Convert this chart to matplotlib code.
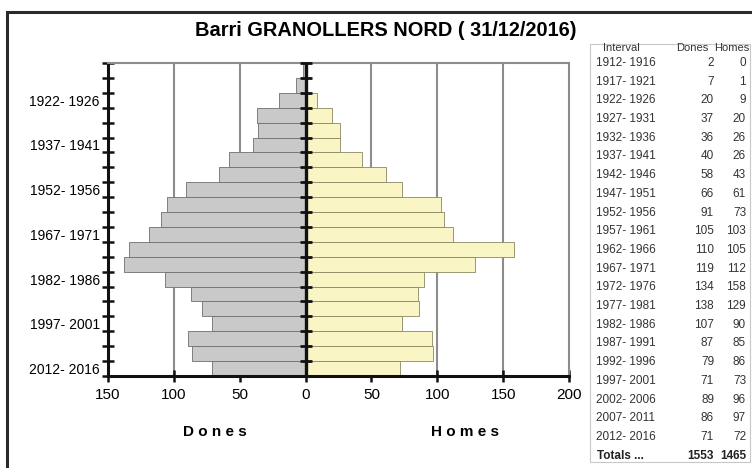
import matplotlib
matplotlib.use("Agg")
import matplotlib.pyplot as plt
import numpy as np
from matplotlib.patches import Rectangle

plt.rcParams["font.family"] = ["Liberation Sans", "DejaVu Sans"]

intervals = [
    "1912- 1916", "1917- 1921", "1922- 1926", "1927- 1931", "1932- 1936",
    "1937- 1941", "1942- 1946", "1947- 1951", "1952- 1956", "1957- 1961",
    "1962- 1966", "1967- 1971", "1972- 1976", "1977- 1981", "1982- 1986",
    "1987- 1991", "1992- 1996", "1997- 2001", "2002- 2006", "2007- 2011",
    "2012- 2016",
]
dones = [2, 7, 20, 37, 36, 40, 58, 66, 91, 105, 110, 119, 134, 138, 107, 87, 79, 71, 89, 86, 71]
homes = [0, 1, 9, 20, 26, 26, 43, 61, 73, 103, 105, 112, 158, 129, 90, 85, 86, 73, 96, 97, 72]
x_ticks = [-150, -100, -50, 0, 50, 100, 150, 200]
title = "Barri GRANOLLERS NORD ( 31/12/2016)"

W, H = 752, 468
fig = plt.figure(figsize=(W / 100, H / 100), dpi=100)
fig.patch.set_facecolor("white")

# outer frame (only left and top edges visible in the reference)
fig.patches.append(Rectangle((7 / W, -0.05), 1.2, 1 - 12 / H + 0.05, transform=fig.transFigure,
                             fill=False, edgecolor="#2a2a2a", linewidth=2.2))

ax = fig.add_axes([108 / W, 1 - 376 / H, (569 - 108) / W, (376 - 63) / H])
n = len(intervals)
y = np.arange(n)

for gx in [-100, -50, 50, 100, 150]:
    ax.axvline(gx, color="#8c8c8c", linewidth=1.5, zorder=0)

ax.barh(y, [-d for d in dones], height=1.0, color="#c9c9c9", edgecolor="#6f6f6f", linewidth=0.6, zorder=2)
ax.barh(y, homes, height=1.0, color="#f9f5c4", edgecolor="#8a8862", linewidth=0.6, zorder=2)
ax.axvline(0, color="#111111", linewidth=2.4, zorder=3)

bounds = np.arange(n + 1) - 0.5
ax.plot(np.zeros(n + 1), bounds, linestyle="none", marker="_", markersize=8,
        markeredgewidth=2.0, color="#111111", zorder=4, clip_on=False)

ax.set_xlim(-150, 200)
ax.set_ylim(n - 0.5, -0.5)
ax.set_xticks(x_ticks)
ax.set_xticklabels([str(abs(v)) for v in x_ticks], fontsize=11)
ax.set_yticks(bounds)
ax.set_yticklabels([])
ax.set_yticks(y[2::3], minor=True)
ax.set_yticklabels([intervals[i] for i in y[2::3]], minor=True, fontsize=10)
ax.tick_params(axis="y", which="major", direction="inout", length=8, width=1.8, color="#111111")
ax.tick_params(axis="y", which="minor", length=0, pad=6)
ax.tick_params(axis="x", direction="inout", length=9, width=1.8, color="#111111", pad=4)

for side in ["left", "bottom"]:
    ax.spines[side].set_color("#111111")
    ax.spines[side].set_linewidth(2.2)
for side in ["top", "right"]:
    ax.spines[side].set_color("#8c8c8c")
    ax.spines[side].set_linewidth(1.5)

fig.text(386 / W, 1 - 30 / H, title, ha="center", va="center", fontsize=14.4, fontweight="bold")
fig.text(215 / W, 1 - 432 / H, "D o n e s", ha="center", va="center", fontsize=11, fontweight="bold")
fig.text(465 / W, 1 - 432 / H, "H o m e s", ha="center", va="center", fontsize=11, fontweight="bold")

# data table on the right
fig.patches.append(Rectangle((590 / W, 1 - 462 / H), 160 / W, (462 - 44) / H, transform=fig.transFigure,
                             fill=False, edgecolor="#c8c8c8", linewidth=0.8))
tfs = 8.5
fig.text(621 / W, 1 - 48 / H, "Interval", ha="center", va="center", fontsize=8, color="#333333")
fig.text(708 / W, 1 - 48 / H, "Dones", ha="right", va="center", fontsize=8, color="#333333")
fig.text(749 / W, 1 - 48 / H, "Homes", ha="right", va="center", fontsize=8, color="#333333")
row0, step = 63, 18.7
for i, (lab, d, h) in enumerate(zip(intervals, dones, homes)):
    yy = 1 - (row0 + i * step) / H
    fig.text(596 / W, yy, lab, ha="left", va="center", fontsize=tfs, color="#333333")
    fig.text(714 / W, yy, str(d), ha="right", va="center", fontsize=tfs, color="#333333")
    fig.text(746 / W, yy, str(h), ha="right", va="center", fontsize=tfs, color="#333333")
yy = 1 - (row0 + n * step) / H
fig.text(597 / W, yy, "Totals ...", ha="left", va="center", fontsize=tfs, fontweight="bold", color="#222222")
fig.text(714 / W, yy, str(sum(dones)), ha="right", va="center", fontsize=tfs, fontweight="bold", color="#222222")
fig.text(746 / W, yy, str(sum(homes)), ha="right", va="center", fontsize=tfs, fontweight="bold", color="#222222")

fig.savefig("out.png", dpi=100)
